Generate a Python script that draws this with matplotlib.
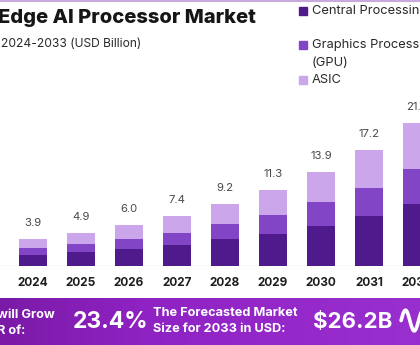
import matplotlib
matplotlib.use("Agg")
import matplotlib.pyplot as plt
import numpy as np
from matplotlib.colors import LinearSegmentedColormap

years = ["2024", "2025", "2026", "2027", "2028", "2029", "2030", "2031", "2032"]
totals = [3.9, 4.9, 6.0, 7.4, 9.2, 11.3, 13.9, 17.2, 21.2]
cpu = [1.55, 2.0, 2.5, 3.05, 3.95, 4.75, 5.95, 7.3, 9.1]
gpu = [1.05, 1.25, 1.45, 1.85, 2.3, 2.8, 3.5, 4.3, 5.3]
asic = [round(t - c - g, 2) for t, c, g in zip(totals, cpu, gpu)]

C_CPU = "#4f1a8c"
C_GPU = "#8245c6"
C_ASIC = "#cba6ea"

plt.rcParams['font.family'] = ["Inter", "DejaVu Sans"]

W, H = 420, 345
fig = plt.figure(figsize=(W / 100, H / 100), dpi=100)
fig.patch.set_facecolor("white")

def fx(px):
    return px / W

def fy(py):
    return 1 - py / H

spacing = 48.0
x0 = 33.0
base = 265.5
ppu = 6.72
ymax = 25
ax = fig.add_axes([0, fy(base), 1, ymax * ppu / H])
ax.set_xlim(-x0 / spacing, (W - x0) / spacing)
ax.set_ylim(0, ymax)
ax.axis("off")
ax.axhline(0, color="#dcdcdc", lw=1.0, zorder=1)

x = np.arange(len(years))
bw = 28 / spacing
cpu_a = np.array(cpu)
gpu_a = np.array(gpu)
asic_a = np.array(asic)
ax.bar(x, cpu_a, bw, color=C_CPU, zorder=2, linewidth=0)
ax.bar(x, gpu_a, bw, bottom=cpu_a, color=C_GPU, zorder=2, linewidth=0)
ax.bar(x, asic_a, bw, bottom=cpu_a + gpu_a, color=C_ASIC, zorder=2, linewidth=0)
for xi, t in zip(x, totals):
    ax.annotate(f"{t:.1f}", (xi, t), xytext=(0, 11), textcoords="offset pixels",
                ha="center", va="bottom", fontsize=8.2, color="#4a4a4a")
for xi, yl in zip(x, years):
    ax.annotate(yl, (xi, 0), xytext=(0, -18), textcoords="offset pixels",
                ha="center", va="center", fontsize=8.5, fontweight="bold", color="#1e1e1e")

fig.add_artist(plt.Line2D([0, 1], [fy(0.8), fy(0.8)], color="#c9a9dc", lw=1.5))

fig.text(fx(256), fy(18), "Edge AI Processor Market", ha="right", va="center",
         fontsize=14.5, fontweight="heavy", color="#161616")
fig.text(fx(1), fy(44), "2024-2033 (USD Billion)", ha="left", va="center",
         fontsize=8.7, color="#2a2a2a")

leg = [(11, C_CPU, "Central Processing Unit (CPU)"),
       (45, C_GPU, "Graphics Processing Unit"),
       (80, C_ASIC, "ASIC")]
for py, col, lab in leg:
    fig.patches.append(plt.Rectangle((fx(299), fy(py + 4)), fx(8), 8 / H,
                                     transform=fig.transFigure, color=col))
    fig.text(fx(312), fy(py), lab, ha="left", va="center", fontsize=9.3, color="#2a2a2a")
fig.text(fx(312), fy(63), "(GPU)", ha="left", va="center", fontsize=9.3, color="#2a2a2a")

bax = fig.add_axes([0, 0, 1, (H - 298) / H])
cmap = LinearSegmentedColormap.from_list("ban", ["#7a1aa6", "#8e22c2", "#9428c8", "#9a2fd0"])
grad = np.linspace(0, 1, 256).reshape(1, -1)
bax.imshow(grad, aspect="auto", cmap=cmap, extent=[0, 1, 0, 1])
bax.set_xlim(0, 1)
bax.set_ylim(0, 1)
bax.axis("off")
# logo squiggle (decorative)
t = np.linspace(0, 1, 60)
bax.plot(0.955 + 0.05 * t, 0.52 + 0.22 * np.sin(2 * np.pi * t * 1.2), color="white",
         lw=2.6, solid_capstyle="round")

fig.text(fx(-3), fy(315), "will Grow", ha="left", va="center", fontsize=9.2,
         fontweight="bold", color="white")
fig.text(fx(-3), fy(331), "R of:", ha="left", va="center", fontsize=9.2,
         fontweight="bold", color="white")
fig.text(fx(111), fy(322), "23.4%", ha="center", va="center", fontsize=16.5,
         fontweight="bold", color="white")
fig.text(fx(153), fy(313), "The Forecasted Market", ha="left", va="center", fontsize=9.2,
         fontweight="bold", color="white")
fig.text(fx(153), fy(329), "Size for 2033 in USD:", ha="left", va="center", fontsize=9.2,
         fontweight="bold", color="white")
fig.text(fx(353), fy(322), "$26.2B", ha="center", va="center", fontsize=16,
         fontweight="bold", color="white")

fig.savefig("out.png", dpi=100)
